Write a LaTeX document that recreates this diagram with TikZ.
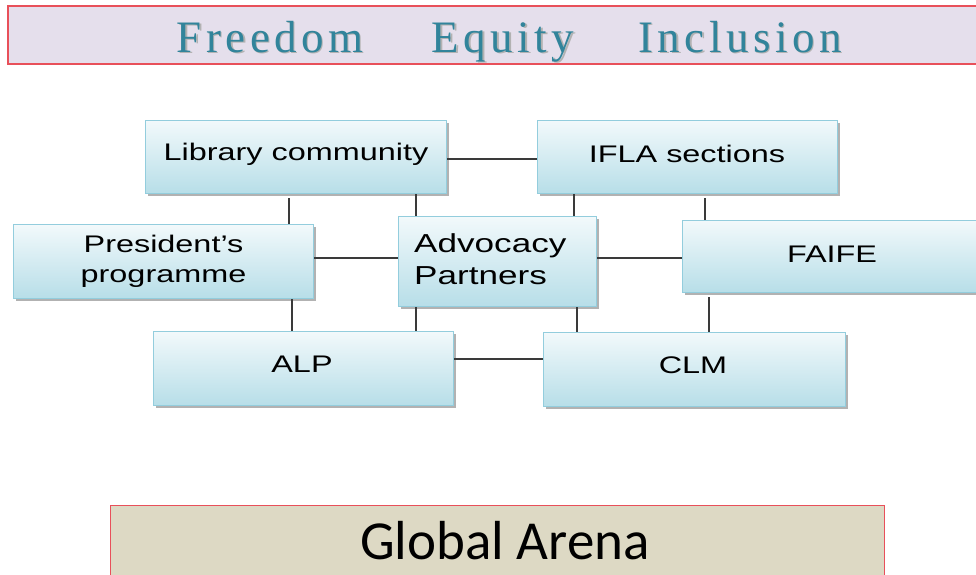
\documentclass[tikz,border=0pt]{standalone}
\usepackage{fontspec}
\setmainfont{Liberation Sans}
\newfontfamily\boxfont[FakeStretch=1.35]{Liberation Sans}
\newfontfamily\titlefont[LetterSpace=10]{Liberation Serif}
\newfontfamily\arenafont{Carlito}
\usetikzlibrary{shadows}
\definecolor{teal1}{HTML}{31849B}
\definecolor{lav}{HTML}{E5DFEC}
\definecolor{redb}{HTML}{E8505A}
\definecolor{tan1}{HTML}{DDD9C4}
\definecolor{boxtop}{HTML}{F2F9FB}
\definecolor{boxbot}{HTML}{B7DEE8}
\definecolor{boxedge}{HTML}{93CDDD}
\definecolor{linec}{HTML}{3A3A3A}
\newcommand{\shadowtext}[1]{\rlap{\hspace{1.5pt}\raisebox{-1.5pt}{\color{black!30}#1}}#1}
\tikzset{
  bluebox/.style={rectangle, anchor=north west, draw=boxedge, line width=1pt,
    top color=boxtop, bottom color=boxbot, inner sep=0pt,
    drop shadow={shadow xshift=2.5pt, shadow yshift=-2.5pt, fill=black, opacity=0.3},
    font=\boxfont\fontsize{24}{30}\selectfont, text=black},
  boxlabel/.style={anchor=center, font=\boxfont\fontsize{24}{30}\selectfont, text=black},
  link/.style={draw=linec, line width=1.4pt},
  titletext/.style={font=\titlefont\fontsize{45}{50}\selectfont, anchor=base, text=teal1},
}
\begin{document}
\begin{tikzpicture}[x=1pt,y=-1pt]
\useasboundingbox (0,0) rectangle (976,574);
\fill[white] (0,0) rectangle (976,574);
% banner
\path[fill=lav, draw=redb, line width=1.2pt] (8,6) rectangle (990,64);
\node[titletext] (t1) at (270,52) {\shadowtext{Freedom}};
\node[titletext] (t2) at (503,52) {\shadowtext{Equity}};
\node[titletext] (t3) at (740,52) {\shadowtext{Inclusion}};
% boxes
\node[bluebox, minimum width=301pt, minimum height=73pt] (lib) at (145,120) {};
\node[boxlabel] (libt) at (296,154) {Library community};
\node[bluebox, minimum width=300pt, minimum height=73pt] (ifla) at (537,120) {};
\node[boxlabel] (iflat) at (687,154) {IFLA sections};
\node[bluebox, minimum width=300pt, minimum height=74pt, align=center] (pres) at (13,224) {President’s\\programme};
\node[bluebox, minimum width=198pt, minimum height=90pt] (adv) at (398,216) {};
\node[anchor=west, align=left, inner sep=0pt, font=\boxfont\fontsize{26}{32}\selectfont] (advt) at (414,259) {Advocacy\\Partners};
\node[bluebox, minimum width=300pt, minimum height=72pt] (faife) at (682,220) {};
\node[boxlabel] (faifet) at (832,254) {FAIFE};
\node[bluebox, minimum width=300pt, minimum height=74pt] (alp) at (153,331) {};
\node[boxlabel] (alpt) at (302,364) {ALP};
\node[bluebox, minimum width=302pt, minimum height=74pt] (clm) at (543,332) {};
\node[boxlabel] (clmt) at (693,365) {CLM};
% connectors
\draw[link] (lib.east |- 0,159) -- (ifla.west |- 0,159);
\draw[link] (289,0 |- lib.south) ++(0,4) -- (289,0 |- pres.north);
\draw[link] (416,0 |- lib.south) -- (416,0 |- adv.north);
\draw[link] (574,0 |- ifla.south) -- (574,0 |- adv.north);
\draw[link] (705,0 |- ifla.south) ++(0,4) -- (705,0 |- faife.north);
\draw[link] (pres.east |- 0,258) -- (adv.west |- 0,258);
\draw[link] (adv.east |- 0,258) -- (faife.west |- 0,258);
\draw[link] (292,0 |- pres.south) -- (292,0 |- alp.north);
\draw[link] (416,0 |- adv.south) -- (416,0 |- alp.north);
\draw[link] (577,0 |- adv.south) -- (577,0 |- clm.north);
\draw[link] (709,0 |- faife.south) ++(0,4) -- (709,0 |- clm.north);
\draw[link] (alp.east |- 0,359) -- (clm.west |- 0,359);
% global arena
\path[fill=tan1, draw=redb, line width=0.8pt] (110,505) rectangle (884,590);
\node[font=\arenafont\fontsize{55}{60}\selectfont, anchor=base] (arena) at (505,559) {Global Arena};
\end{tikzpicture}
\end{document}
